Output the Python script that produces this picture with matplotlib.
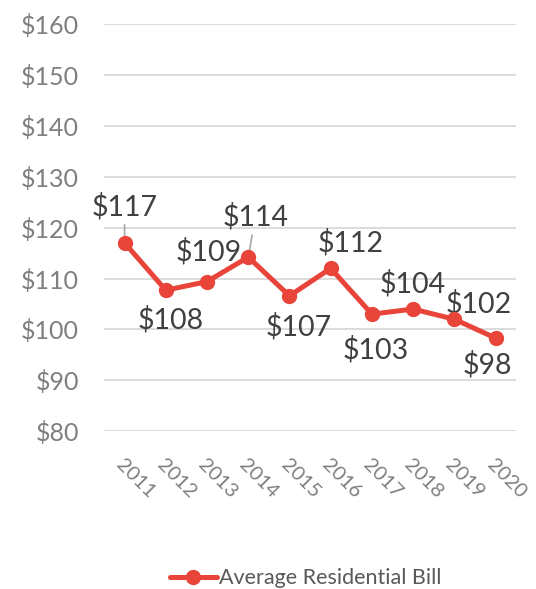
import numpy as np
import matplotlib.pyplot as plt

# dados
anos = ['2011', '2012', '2013', '2014', '2015', '2016', '2017', '2018', '2019', '2020']
conta = [117.0, 107.7, 109.4, 114.2, 106.6, 112.0, 103.0, 104.0, 102.0, 98.3]
rotulos = ['$117', '$108', '$109', '$114', '$107', '$112', '$103', '$104', '$102', '$98']
yticks = [80, 90, 100, 110, 120, 130, 140, 150, 160]

# deslocamento dos rótulos (pixels)
desloc = [(0, 36), (5, -30), (2, 30), (7, 40), (9, -31), (20, 26), (4, -36), (0, 25), (24, 15), (-8, -27)]
linha_guia = [True, False, False, True, False, False, False, False, False, False]

plt.rcParams['font.family'] = ['Lato', 'DejaVu Sans']
vermelho = '#E8443A'

fig = plt.figure(figsize=(5.36, 5.89), dpi=100)
ax = fig.add_axes([0.194, 0.268, 0.769, 0.691])

x = np.arange(len(anos))
ax.plot(x, conta, color=vermelho, lw=3.6, marker='o', ms=10, label='Average Residential Bill',
        solid_capstyle='round', zorder=3)

for i in range(len(anos)):
    dx, dy = desloc[i]
    props = None
    if linha_guia[i]:
        props = dict(arrowstyle='-', color='#A6A6A6', lw=1.2, shrinkA=1, shrinkB=3)
    ax.annotate(rotulos[i], (x[i], conta[i]), xytext=(dx, dy), textcoords='offset pixels',
                ha='center', va='center', fontsize=20.5, color='#404040', arrowprops=props, zorder=2)

ax.set_xlim(-0.5, len(anos) - 0.5)
ax.set_ylim(80, 160)
ax.set_yticks(yticks)
ax.set_yticklabels(['$%d' % v for v in yticks])
ax.set_xticks(x)
ax.set_xticklabels(anos, rotation=-45, ha='left', va='top', rotation_mode='anchor')
ax.tick_params(axis='y', length=0, labelsize=18, labelcolor='#7F7F7F', pad=18)
ax.tick_params(axis='x', length=0, labelsize=14.5, labelcolor='#7F7F7F', pad=18)
ax.grid(axis='y', color='#D9D9D9', lw=1.3)
ax.set_axisbelow(True)
for s in ax.spines.values():
    s.set_visible(False)

fig.legend(loc='center', bbox_to_anchor=(0.57, 0.018), frameon=False, fontsize=15.5,
           labelcolor='#595959', handlelength=2.2, handletextpad=0.1)

fig.savefig('out.png', dpi=100)
